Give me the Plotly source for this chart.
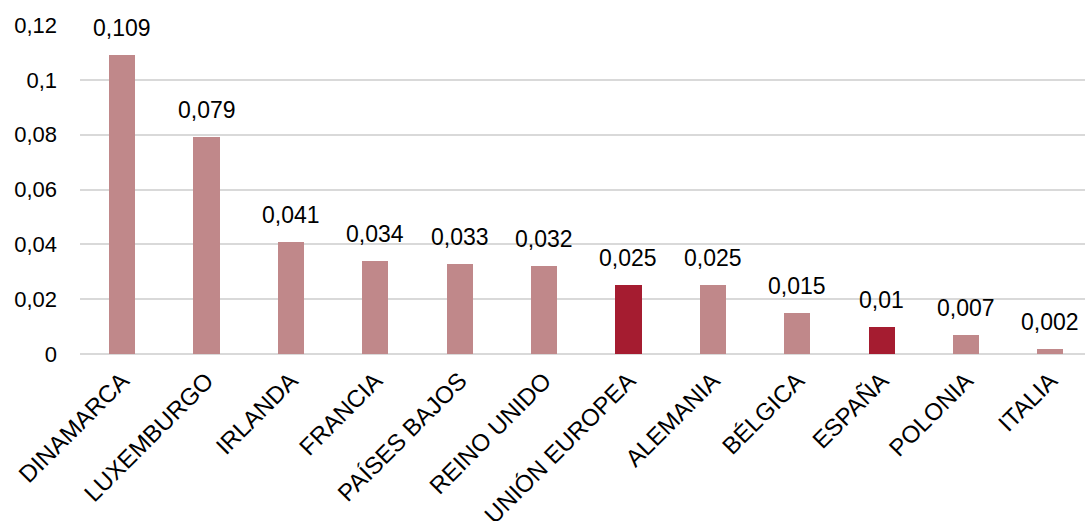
import plotly.graph_objects as go

# Country / aggregate names and their values
categories = ["DINAMARCA", "LUXEMBURGO", "IRLANDA", "FRANCIA", "PAÍSES BAJOS",
              "REINO UNIDO", "UNIÓN EUROPEA", "ALEMANIA", "BÉLGICA", "ESPAÑA",
              "POLONIA", "ITALIA"]
values = [0.109, 0.079, 0.041, 0.034, 0.033, 0.032, 0.025, 0.025, 0.015, 0.01,
          0.007, 0.002]
highlighted = ["UNIÓN EUROPEA", "ESPAÑA"]

y_ticks = [0, 0.02, 0.04, 0.06, 0.08, 0.1, 0.12]
y_tick_labels = ["0", "0,02", "0,04", "0,06", "0,08", "0,1", "0,12"]

BASE = "#C0888A"
HIGHLIGHT = "#A51C30"
FONT = "Liberation Sans, Arial, sans-serif"
SIZE = 22

colors = [HIGHLIGHT if c in highlighted else BASE for c in categories]
labels = [str(v).replace(".", ",") for v in values]

fig = go.Figure(
    go.Bar(
        x=categories,
        y=values,
        marker=dict(color=colors, line=dict(width=0)),
        width=0.31,
        hoverinfo="x+y",
    )
)

# value labels above each bar
for cat, val, lab in zip(categories, values, labels):
    fig.add_annotation(
        x=cat, y=val, text=lab, showarrow=False,
        xanchor="center", yanchor="bottom", yshift=12,
        font=dict(family=FONT, size=SIZE + 1, color="#000000"),
    )

fig.update_layout(
    width=1085,
    height=521,
    margin=dict(l=80, r=0, t=25, b=167, autoexpand=False),
    plot_bgcolor="white",
    paper_bgcolor="white",
    font=dict(family=FONT, size=SIZE, color="#000000"),
    showlegend=False,
    bargap=0,
)

fig.update_xaxes(
    range=[-0.5, 11.41],
    tickangle=-45,
    showgrid=False,
    showline=False,
    ticks="",
    automargin=False,
    ticklabelstandoff=7,
    tickfont=dict(family=FONT, size=24, color="#000000"),
)

fig.update_yaxes(
    range=[0, 0.12],
    tickvals=y_ticks,
    ticktext=y_tick_labels,
    showgrid=True,
    gridcolor="#D9D9D9",
    gridwidth=1.5,
    zeroline=True,
    zerolinecolor="#D9D9D9",
    zerolinewidth=2,
    showline=False,
    ticks="",
    automargin=False,
    ticklabelstandoff=22,
    tickfont=dict(family=FONT, size=SIZE, color="#000000"),
)

fig.write_html("out.html")
